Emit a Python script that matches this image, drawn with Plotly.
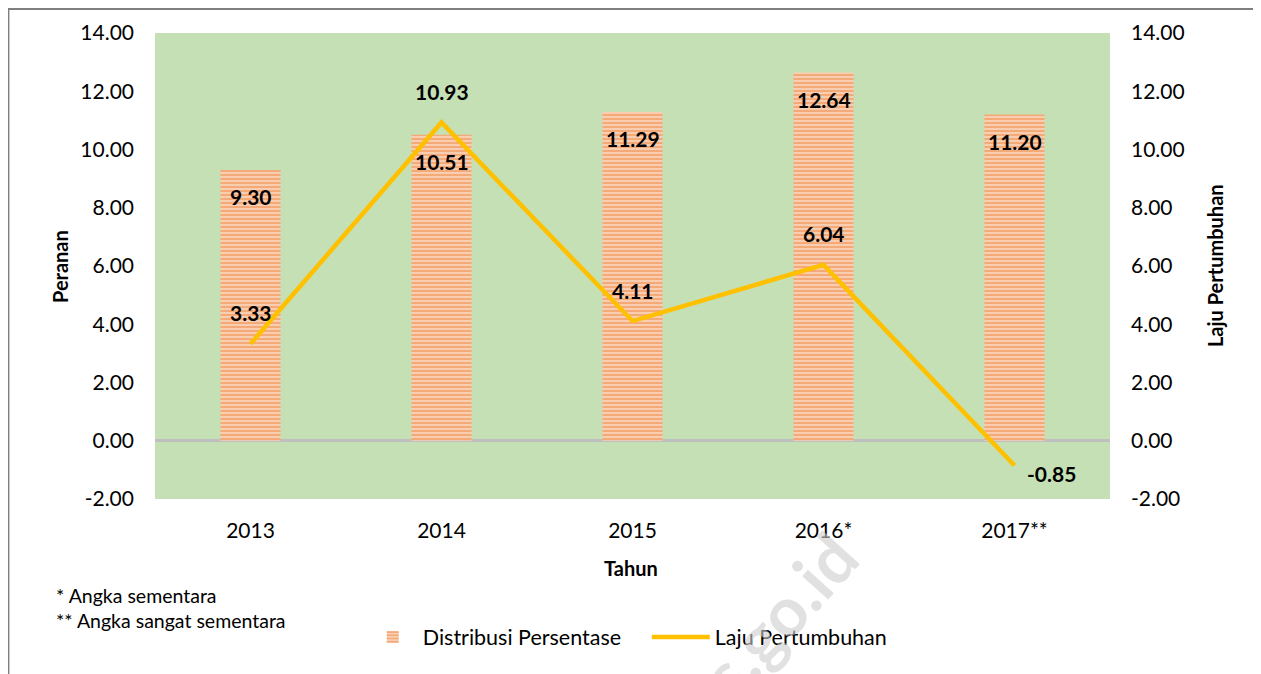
import plotly.graph_objects as go

years = ["2013", "2014", "2015", "2016*", "2017**"]
distribusi = [9.30, 10.51, 11.29, 12.64, 11.20]
laju = [3.33, 10.93, 4.11, 6.04, -0.85]
tick_vals = [-2, 0, 2, 4, 6, 8, 10, 12, 14]
tick_text = ["-2.00", "0.00", "2.00", "4.00", "6.00", "8.00", "10.00", "12.00", "14.00"]

FONT = "Lato"

fig = go.Figure()

fig.add_trace(go.Bar(
    x=years, y=distribusi, name="Distribusi Persentase",
    width=0.315, legend="legend",
    marker=dict(color="#F8CBAD", line=dict(width=0),
                pattern=dict(shape="-", fgcolor="#ED7D31", bgcolor="#FAD7BE",
                             size=4, solidity=0.6, fillmode="overlay")),
))
fig.add_trace(go.Scatter(
    x=years, y=laju, name="Laju Pertumbuhan", mode="lines", yaxis="y2",
    legend="legend2",
    line=dict(color="#FFC000", width=4.5),
))

# bar value labels (x as category index)
for i, v in enumerate(distribusi):
    fig.add_annotation(x=i, y=v, text="<b>%.2f</b>" % v, showarrow=False,
                       yshift=-27, font=dict(size=21, color="black", family=FONT))
# line value labels
for i, v in enumerate(laju):
    if v < 0:
        fig.add_annotation(x=i, y=v, yref="y2", text="<b>%.2f</b>" % v, showarrow=False,
                           xshift=37, yshift=-8, font=dict(size=21, color="black", family=FONT))
    else:
        fig.add_annotation(x=i, y=v, yref="y2", text="<b>%.2f</b>" % v, showarrow=False,
                           yshift=31, font=dict(size=21, color="black", family=FONT))

# axis titles
fig.add_annotation(xref="paper", yref="paper", x=-0.0995, y=0.5, xanchor="center",
                   text="<b>Peranan</b>", textangle=-90, showarrow=False,
                   font=dict(size=20, color="black", family=FONT))
fig.add_annotation(xref="paper", yref="paper", x=1.110, y=0.5, xanchor="center",
                   text="<b>Laju Pertumbuhan</b>", textangle=-90, showarrow=False,
                   font=dict(size=20, color="black", family=FONT))
fig.add_annotation(xref="paper", yref="paper", x=0.498, y=-0.178, text="<b>Tahun</b>",
                   showarrow=False, font=dict(size=20, color="black", family=FONT))

# footnotes
fig.add_annotation(xref="paper", yref="paper", x=-0.106, y=-0.236, xanchor="left",
                   text="* Angka sementara", showarrow=False,
                   font=dict(size=19.5, color="black", family=FONT))
fig.add_annotation(xref="paper", yref="paper", x=-0.106, y=-0.29, xanchor="left",
                   text="** Angka sangat sementara", showarrow=False,
                   font=dict(size=19.5, color="black", family=FONT))

# watermark
fig.add_annotation(xref="paper", yref="paper", x=0.626, y=-0.59, text="<b>bps.go.id</b>",
                   textangle=-48, showarrow=False,
                   font=dict(size=68, color="rgba(205,205,205,0.6)", family=FONT))

# outer frame
fig.add_shape(type="rect", xref="paper", yref="paper", x0=-0.1535, x1=1.1525, y0=-0.4, y1=1.0515,
              line=dict(color="#7F7F7F", width=2), layer="below")

axis_font = dict(size=21, color="black", family=FONT)
legend_font = dict(size=21.5, color="black", family=FONT)
fig.update_layout(
    width=1253, height=666,
    margin=dict(l=147, r=151, t=25, b=175),
    paper_bgcolor="white", plot_bgcolor="#C5E0B4",
    font=dict(family=FONT, color="black"),
    xaxis=dict(type="category", range=[-0.5, 4.5], showgrid=False, showline=False, ticks="",
               tickfont=axis_font, ticklabelstandoff=17),
    yaxis=dict(range=[-2, 14], tickvals=tick_vals, ticktext=tick_text, showgrid=False,
               zeroline=True, zerolinecolor="#BFBFBF", zerolinewidth=3,
               tickfont=axis_font, ticklabelstandoff=20, showline=False),
    yaxis2=dict(range=[-2, 14], tickvals=tick_vals, ticktext=tick_text, overlaying="y",
                side="right", showgrid=False, zeroline=False, tickfont=axis_font,
                ticklabelstandoff=20, showline=False),
    legend=dict(orientation="h", x=0.494, y=-0.296, xanchor="right", yanchor="middle",
                font=legend_font, itemwidth=50, bgcolor="rgba(0,0,0,0)"),
    legend2=dict(orientation="h", x=0.515, y=-0.296, xanchor="left", yanchor="middle",
                 font=legend_font, itemwidth=58, bgcolor="rgba(0,0,0,0)"),
    showlegend=True,
)

fig.write_html("out.html")
